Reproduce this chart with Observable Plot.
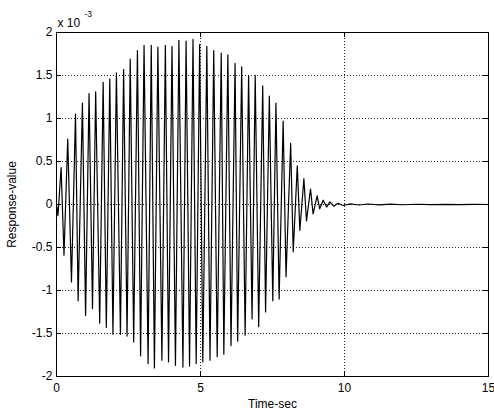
<!DOCTYPE html>
<html>
<head>
<meta charset="utf-8">
<script src="https://cdn.jsdelivr.net/npm/d3@7"></script>
<script src="https://cdn.jsdelivr.net/npm/@observablehq/plot@0.6"></script>
<style>
  html, body { margin: 0; padding: 0; background: #fff; }
  #chart svg { display: block; }
</style>
</head>
<body>
<div id="chart"></div>
<script>
const times = [0, 0.05, 0.16, 0.26, 0.39, 0.52, 0.66, 0.75, 0.90, 1.01,
  1.13, 1.25, 1.36, 1.50, 1.62, 1.73, 1.85, 1.96, 2.08, 2.22,
  2.33, 2.45, 2.56, 2.68, 2.81, 2.92, 3.04, 3.18, 3.29, 3.40,
  3.52, 3.66, 3.78, 3.89, 4.01, 4.13, 4.25, 4.39, 4.50, 4.62,
  4.74, 4.85, 4.97, 5.08, 5.22, 5.33, 5.46, 5.58, 5.72, 5.81,
  5.95, 6.06, 6.20, 6.29, 6.43, 6.55, 6.67, 6.79, 6.90, 7.02,
  7.16, 7.26, 7.39, 7.51, 7.62, 7.73, 7.87, 7.97, 8.13, 8.22,
  8.36, 8.45, 8.59, 8.68, 8.82, 8.91, 9.05, 9.14, 9.26, 9.38,
  9.49, 9.63, 9.77, 9.95, 10.2, 10.5, 10.8, 11.2, 11.6, 12.0,
  12.5, 13.0, 13.5, 14.0, 14.5, 15.0];
// Response value in units of 10^-3
const responses = [0, -0.13, 0.43, -0.59, 0.76, -0.90, 1.05, -1.12, 1.18, -1.29,
  1.29, -1.21, 1.31, -1.38, 1.42, -1.43, 1.46, -1.51, 1.53, -1.51,
  1.57, -1.53, 1.69, -1.60, 1.79, -1.76, 1.85, -1.85, 1.85, -1.90,
  1.83, -1.81, 1.85, -1.83, 1.84, -1.87, 1.91, -1.89, 1.90, -1.88,
  1.92, -1.85, 1.86, -1.83, 1.84, -1.81, 1.79, -1.77, 1.76, -1.74,
  1.74, -1.64, 1.64, -1.59, 1.60, -1.52, 1.49, -1.33, 1.50, -1.42,
  1.38, -1.25, 1.26, -1.12, 1.18, -1.10, 0.97, -0.84, 0.71, -0.55,
  0.45, -0.30, 0.30, -0.19, 0.18, -0.11, 0.10, -0.05, 0.05, -0.03,
  0.03, -0.02, 0.015, -0.012, 0.008, -0.006, 0.006, -0.004, 0.004, -0.003,
  0.003, -0.002, 0.002, -0.002, 0.001, 0];
const xTicks = [0, 5, 10, 15];
const yTicks = [-2, -1.5, -1, -0.5, 0, 0.5, 1, 1.5, 2];
const xLabel = "Time-sec";
const yLabel = "Response-value";
const scaleBase = "x 10";
const scaleExp = "-3";

const data = times.map((t, i) => ({t, v: responses[i]}));

const W = 494, H = 410;
const mL = 56, mR = 6, mT = 32, mB = 34;
const innerW = W - mL - mR, innerH = H - mT - mB;
const tickLen = 5;

const chart = Plot.plot({
  width: W, height: H,
  marginLeft: mL, marginRight: mR, marginTop: mT, marginBottom: mB,
  style: {fontFamily: "'Liberation Sans', Arial, sans-serif", fontSize: "12px", background: "#fff", color: "#000"},
  x: {domain: [0, 15], ticks: xTicks, tickSize: 0, tickPadding: 7, tickFormat: d => String(d), label: null},
  y: {domain: [-2, 2], ticks: yTicks, tickSize: 0, tickPadding: 4, tickFormat: d => String(d), label: null},
  marks: [
    Plot.ruleX(xTicks, {x: d => d, stroke: "#222", strokeDasharray: "1,2", strokeWidth: 1}),
    Plot.ruleY(yTicks, {y: d => d, stroke: "#222", strokeDasharray: "1,2", strokeWidth: 1}),
    Plot.line(data, {x: "t", y: "v", stroke: "#000", strokeWidth: 1.2}),
    Plot.tickX(xTicks, {x: d => d, insetTop: innerH - tickLen, stroke: "#000"}),
    Plot.tickX(xTicks, {x: d => d, insetBottom: innerH - tickLen, stroke: "#000"}),
    Plot.tickY(yTicks, {y: d => d, insetRight: innerW - tickLen, stroke: "#000"}),
    Plot.tickY(yTicks, {y: d => d, insetLeft: innerW - tickLen, stroke: "#000"}),
    Plot.frame({stroke: "#000"}),
    Plot.text([xLabel], {text: d => d, frameAnchor: "bottom", textAnchor: "middle", lineAnchor: "bottom", dy: 31, fontSize: 12, fill: "#000"}),
    Plot.text([yLabel], {text: d => d, frameAnchor: "left", textAnchor: "middle", lineAnchor: "middle", dx: -44, rotate: -90, fontSize: 12, fill: "#000"}),
    Plot.text([scaleBase], {text: d => d, frameAnchor: "top-left", textAnchor: "start", lineAnchor: "top", dx: 1, dy: -14, fontSize: 12, fill: "#000"}),
    Plot.text([scaleExp], {text: d => d, frameAnchor: "top-left", textAnchor: "start", lineAnchor: "top", dx: 28, dy: -22, fontSize: 8.5, fill: "#000"})
  ]
});
document.getElementById("chart").appendChild(chart);
</script>
</body>
</html>
